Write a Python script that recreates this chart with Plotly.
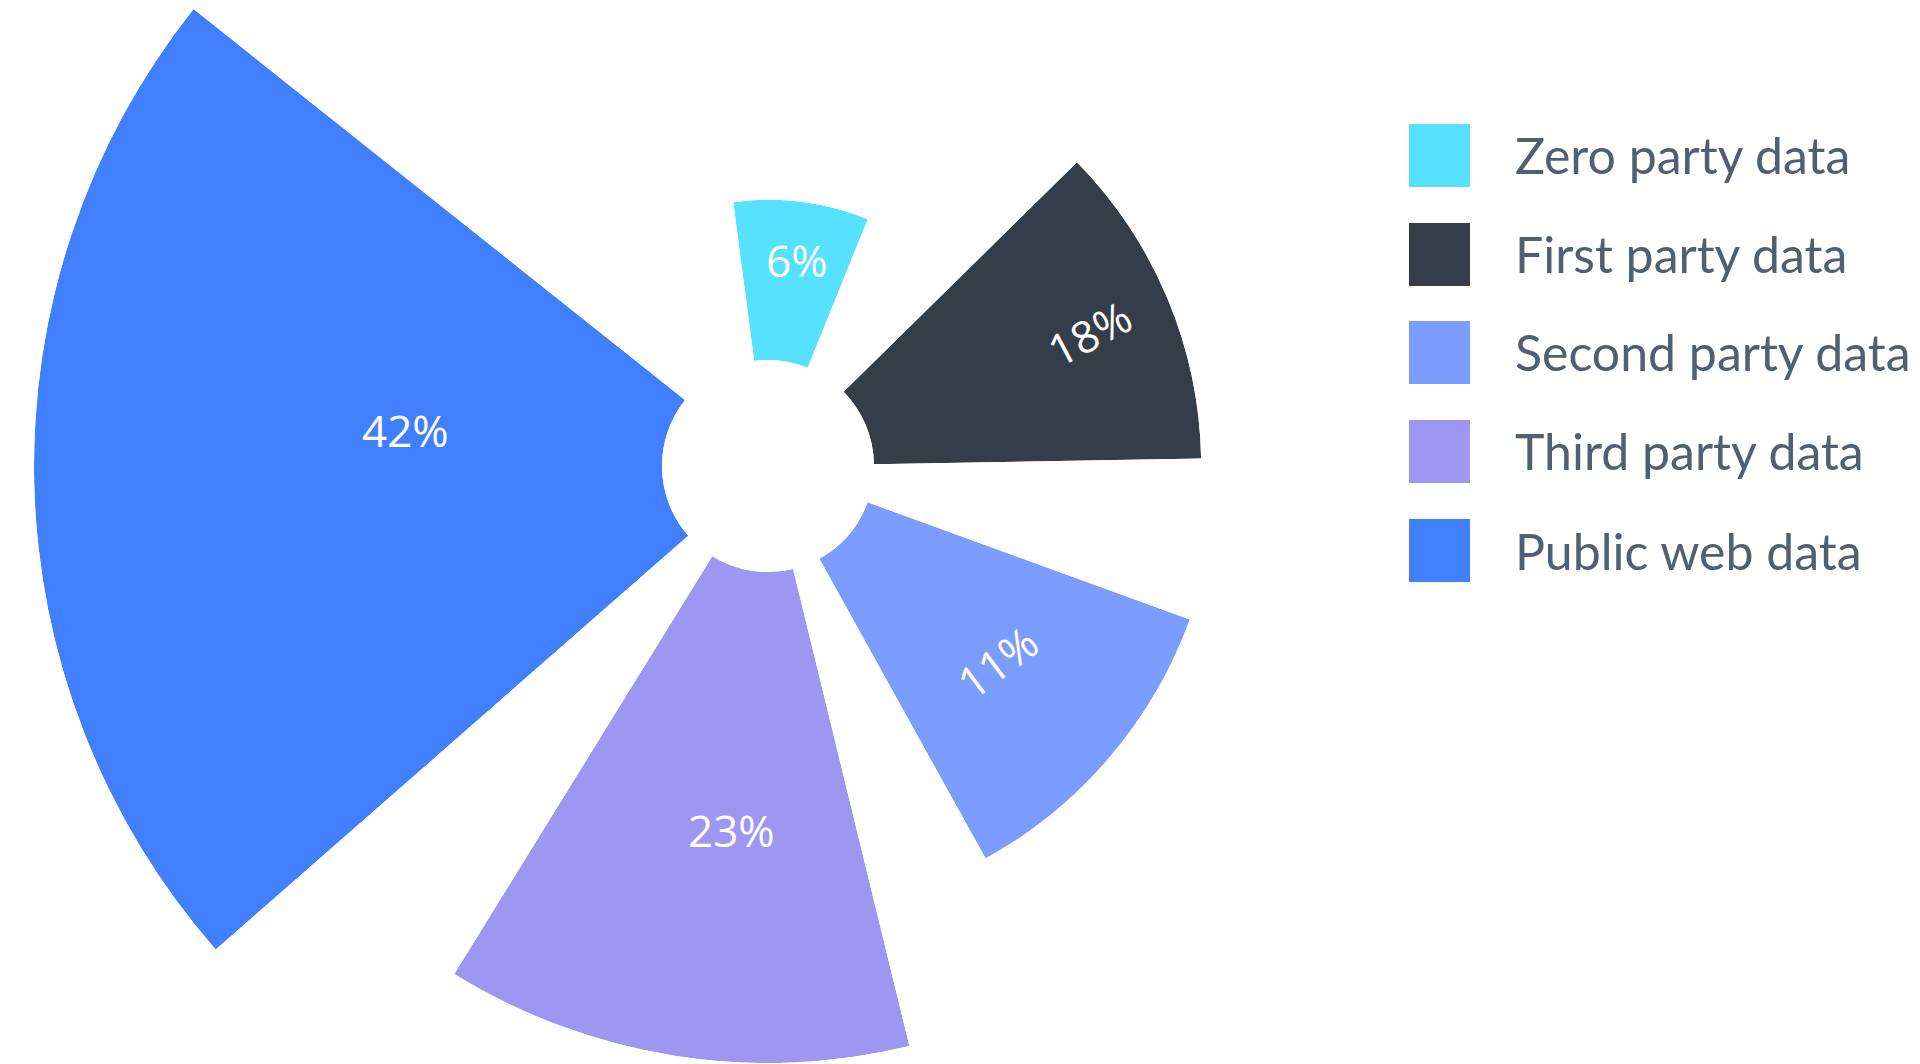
import math
import plotly.graph_objects as go

# ---------------- data ----------------
categories = ["Zero party data", "First party data", "Second party data",
              "Third party data", "Public web data"]
share_pct = [6, 18, 11, 23, 42]                 # printed labels
rose_length = [25.5, 52.1, 54.6, 78.2, 100.0]   # radial length of each petal
theta_start = [-7.5, 45.5, 110.0, 166.3, 228.8]  # deg, clockwise from top
theta_end = [22.0, 89.0, 151.0, 211.7, 308.5]
colors = ["#55E1FF", "#343D48", "#7B9DFF", "#9D97F2", "#4080FF"]

# ---------------- layout constants ----------------
PAGE_OFF = 8               # default body margin of the html page
W, H = 1920 - PAGE_OFF, 1064 - PAGE_OFF
CX, CY = 768 - PAGE_OFF, 466 - PAGE_OFF   # centre of the rose (px in paper)
HOLE_PX = 106              # radius of the empty centre (px)
PX_PER_UNIT = 6.28         # radial scale

# label centres (page px) and rotation
label_pos = [(797, 260, 0), (1089, 333, -28), (997, 662, -37), (731, 830, 0), (405, 430, 0)]


def sector_bbox(s0, s1):
    arc = s1 - s0
    a0 = s0 % 360
    a1 = a0 + arc
    ax0, ay0 = math.cos(math.radians(a0)), math.sin(math.radians(a0))
    ax1, ay1 = math.cos(math.radians(a1)), math.sin(math.radians(a1))
    if (a0 <= 90 and a1 >= 90) or (a0 > 90 and a1 >= 450):
        y1 = 1
    elif ay0 <= 0 and ay1 <= 0:
        y1 = 0
    else:
        y1 = max(ay0, ay1)
    if (a0 <= 180 and a1 >= 180) or (a0 > 180 and a1 >= 540):
        x0 = -1
    elif ax0 >= 0 and ax1 >= 0:
        x0 = 0
    else:
        x0 = min(ax0, ax1)
    if (a0 <= 270 and a1 >= 270) or (a0 > 270 and a1 >= 630):
        y0 = -1
    elif ay0 >= 0 and ay1 >= 0:
        y0 = 0
    else:
        y0 = min(ay0, ay1)
    if a1 >= 360:
        x1 = 1
    elif ax0 <= 0 and ax1 <= 0:
        x1 = 0
    else:
        x1 = max(ax0, ax1)
    return x0, y0, x1, y1


fig = go.Figure()
layout_updates = {}
for i, name in enumerate(categories):
    pid = "polar" if i == 0 else f"polar{i + 1}"
    width = theta_end[i] - theta_start[i]
    mid = (theta_start[i] + theta_end[i]) / 2
    s0 = (90 - theta_end[i]) % 360
    s1 = s0 + width
    R = HOLE_PX + PX_PER_UNIT * rose_length[i]
    bx0, by0, bx1, by1 = sector_bbox(s0, s1)
    xd = [(CX + R * bx0) / W, (CX + R * bx1) / W]
    yd = [1 - (CY - R * by0) / H, 1 - (CY - R * by1) / H]
    xd = [min(max(v, 0), 1) for v in xd]
    yd = [min(max(v, 0), 1) for v in yd]
    fig.add_trace(go.Barpolar(
        r=[rose_length[i]], theta=[mid], width=[width], name=name,
        marker=dict(color=colors[i], line=dict(width=0)),
        subplot=pid, showlegend=False, hoverinfo="name",
    ))
    layout_updates[pid] = dict(
        domain=dict(x=xd, y=yd),
        sector=[s0, s1],
        hole=HOLE_PX / R,
        bgcolor="rgba(0,0,0,0)",
        radialaxis=dict(range=[0, rose_length[i]], visible=False, showgrid=False),
        angularaxis=dict(rotation=90, direction="clockwise", visible=False,
                         showgrid=False, showline=False),
    )

annotations = []
for i, (px, py, ang) in enumerate(label_pos):
    annotations.append(dict(
        x=(px - PAGE_OFF) / W, y=1 - (py - PAGE_OFF) / H, xref="paper", yref="paper",
        text=f"{share_pct[i]}%", showarrow=False, textangle=ang,
        xanchor="center", yanchor="middle",
        font=dict(family="Open Sans", size=44, color="#FFFFFF"),
    ))

# legend drawn as swatches + text (page px)
shapes = []
legend_top = [124, 223, 321, 420, 519]
for i, name in enumerate(categories):
    t = legend_top[i] - PAGE_OFF
    shapes.append(dict(type="rect", xref="paper", yref="paper",
                       x0=(1409 - PAGE_OFF) / W, x1=(1470 - PAGE_OFF) / W,
                       y0=1 - (t + 63) / H, y1=1 - t / H,
                       fillcolor=colors[i], line=dict(width=0)))
    annotations.append(dict(
        x=(1513 - PAGE_OFF) / W, y=1 - (t + 31.5) / H, xref="paper", yref="paper",
        text=name, showarrow=False, xanchor="left", yanchor="middle",
        font=dict(family="Lato", size=50, color="#506070"),
    ))

fig.update_layout(
    width=W, height=H, margin=dict(l=0, r=0, t=0, b=0),
    paper_bgcolor="#FFFFFF", plot_bgcolor="#FFFFFF",
    template="none", showlegend=False,
    annotations=annotations, shapes=shapes,
    **layout_updates,
)

fig.write_html("out.html")
